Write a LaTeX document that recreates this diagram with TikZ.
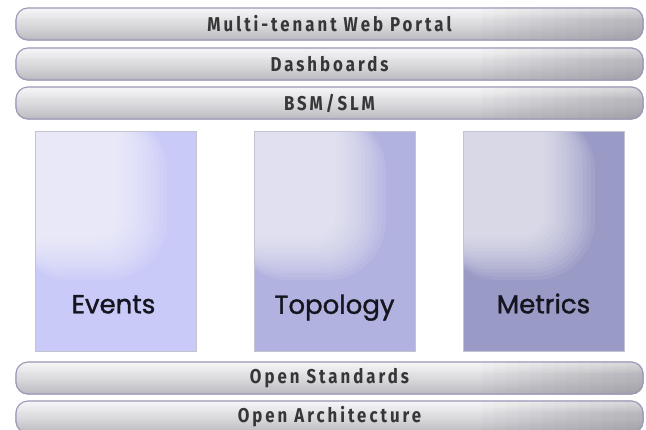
\documentclass[tikz,border=0pt]{standalone}
\usepackage{fontspec}
\newfontfamily\barfont[FakeStretch=0.84,LetterSpace=15]{Fira Sans Bold}
\newfontfamily\boxfont[FakeBold=1.3]{Poppins}
\pgfdeclarelayer{bg}
\pgfdeclarelayer{deco}
\pgfsetlayers{bg,deco,main}
\definecolor{barborder}{HTML}{9C9AB8}
\definecolor{bartop}{HTML}{F2F2F4}
\definecolor{barbot}{HTML}{B8B8BE}
\definecolor{bardark}{HTML}{8A8A92}
\definecolor{bartext}{HTML}{363636}
\definecolor{evfill}{HTML}{CACAF8}
\definecolor{tofill}{HTML}{B2B2E0}
\definecolor{mefill}{HTML}{9A9AC6}
\definecolor{boxborder}{HTML}{C4C4D0}
\definecolor{boxtext}{HTML}{15151F}
\tikzset{
  x=1pt, y=-1pt,
  layerbar/.style={draw=barborder, line width=1.1pt, rounded corners=12pt,
    minimum width=627pt, minimum height=32pt, inner sep=0pt,
    font=\barfont\fontsize{20}{22}\selectfont, text=bartext},
  pillar/.style={draw=boxborder, line width=0.6pt, minimum width=161pt, minimum height=220pt, inner sep=0pt},
  pillarlabel/.style={font=\boxfont\fontsize{26}{28}\selectfont, text=boxtext, anchor=base, inner sep=0pt},
  barshade/.style={top color=bartop, bottom color=barbot, middle color=bartop!60!barbot}
}
\newcommand{\bardeco}[1]{%
  \shade[barshade, rounded corners=12pt] (#1.north west) rectangle (#1.south east);
  \begin{scope}
    \clip[rounded corners=12pt] (#1.north west) rectangle (#1.south east);
    \foreach \k in {0,...,13}{
      \fill[bardark, opacity=0.04] ([xshift={-6pt-12pt*\k}]#1.north east) rectangle (#1.south east);
    }
    \foreach \k in {0,...,5}{
      \fill[white, opacity=0.09] (#1.north west) rectangle ([yshift={-2pt-2pt*\k}]#1.north east);
    }
  \end{scope}}
\newcommand{\pillardeco}[2]{%
  \fill[#2] (#1.north west) rectangle (#1.south east);
  \begin{scope}
    \clip (#1.north west) rectangle (#1.south east);
    \foreach \k in {0,...,12}{
      \fill[white, opacity=0.08, rounded corners={24pt+3pt*\k}]
        ([shift={(-24,-20)}]#1.north west) rectangle ([shift={({82+4.2*\k},{106+3.6*\k})}]#1.north west);
    }
  \end{scope}}
\begin{document}
\begin{tikzpicture}
\begin{pgfonlayer}{bg}
\fill[white] (0,0) rectangle (646,429);
\end{pgfonlayer}
\useasboundingbox (0,0) rectangle (646,429);
\node[layerbar] (portal) at (329.5,24) {Multi-tenant Web Portal};
\node[layerbar] (dash) at (329.5,64) {Dashboards};
\node[layerbar] (bsm) at (329.5,103) {BSM/SLM};
\node[pillar] (events) at (115.5,241) {};
\node[pillar] (topology) at (334.5,241.5) {};
\node[pillar] (metrics) at (543.5,241) {};
\node[pillarlabel] (eventsT) at ([xshift=-2pt,yshift=38pt]events.south) {Events};
\node[pillarlabel] (topologyT) at ([yshift=38pt]topology.south) {Topology};
\node[pillarlabel] (metricsT) at ([yshift=38pt]metrics.south) {Metrics};
\node[layerbar] (std) at (329.5,378) {Open Standards};
\node[layerbar] (arch) at (329.5,417) {Open Architecture};
\begin{pgfonlayer}{deco}
\bardeco{portal}
\bardeco{dash}
\bardeco{bsm}
\bardeco{std}
\bardeco{arch}
\pillardeco{events}{evfill}
\pillardeco{topology}{tofill}
\pillardeco{metrics}{mefill}
\end{pgfonlayer}
\end{tikzpicture}
\end{document}
